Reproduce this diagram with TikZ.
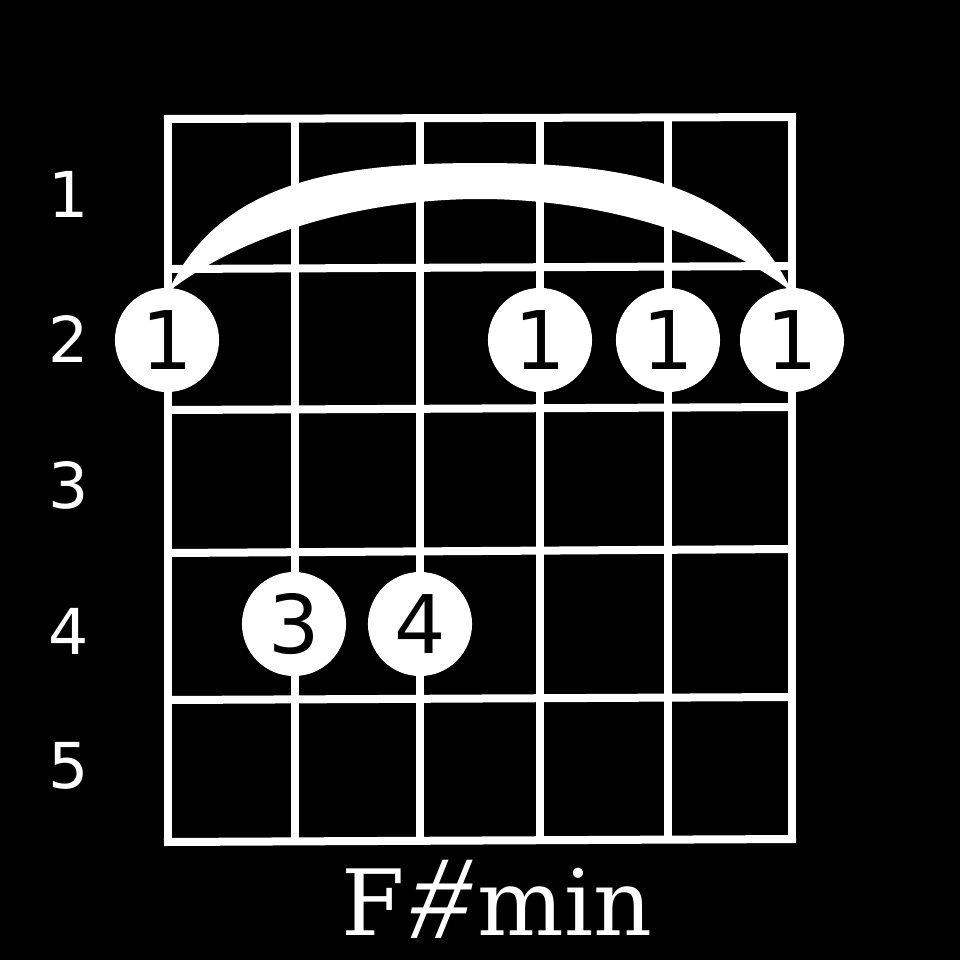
\documentclass[tikz,border=0pt]{standalone}
\usepackage{fontspec}
\setmainfont{DejaVu Serif}
\newfontfamily\dvsans{DejaVu Sans}
\newfontfamily\libslant[FakeSlant=0.22]{Liberation Serif}
\begin{document}
\begin{tikzpicture}[x=0.01cm,y=-0.01cm,
  gridline/.style={draw=white,line width=0.08cm},
  finger/.style={circle,fill=white,minimum size=1.04cm,inner sep=0pt,text=black,font=\dvsans\fontsize{23}{23}\selectfont},
  fretlabel/.style={text=white,inner sep=0pt,font=\dvsans\fontsize{18}{18}\selectfont},
  chordname/.style={text=white,inner sep=0pt,font=\fontsize{26}{26}\selectfont}]
\fill[black] (0,0) rectangle (960,960);
\useasboundingbox (0,0) rectangle (960,960);
% horizontal fret lines
\draw[gridline] (164,119) -- (796,117);
\draw[gridline] (168,269) -- (792,266);
\draw[gridline] (168,410) -- (792,407);
\draw[gridline] (168,553) -- (792,549);
\draw[gridline] (168,700) -- (792,697);
\draw[gridline] (164,842) -- (796,839);
% vertical string lines
\draw[gridline] (168,117) -- (168,842);
\draw[gridline] (295,119) -- (295,840);
\draw[gridline] (420,119) -- (420,840);
\draw[gridline] (540,118) -- (540,840);
\draw[gridline] (668,118) -- (668,840);
\draw[gridline] (792,117) -- (792,840);
% barre
\fill[white] (168,292) .. controls (220,180) and (340,163) .. (480,163)
  .. controls (620,163) and (740,180) .. (792,292)
  .. controls (720,235) and (600,199) .. (480,199)
  .. controls (360,199) and (240,235) .. (168,292) -- cycle;
% fingers
\node[finger] (s1) at (167,340) {1};
\node[finger] (s4) at (540,340) {1};
\node[finger] (s5) at (668,340) {1};
\node[finger] (s6) at (792,340) {1};
\node[finger] (s2) at (294,624) {3};
\node[finger] (s3) at (420,624) {4};
% fret numbers
\node[fretlabel] (r1) at (69,194) {1};
\node[fretlabel] (r2) at (69,339) {2};
\node[fretlabel] (r3) at (69,485) {3};
\node[fretlabel] (r4) at (69,631) {4};
\node[fretlabel] (r5) at (69,766) {5};
% chord name
\node[chordname,anchor=base] (title) at (497,935) {F\kern-0.5pt{\libslant\fontsize{34}{34}\selectfont\raisebox{-1pt}{\#}}\kern4pt min};
\end{tikzpicture}
\end{document}
